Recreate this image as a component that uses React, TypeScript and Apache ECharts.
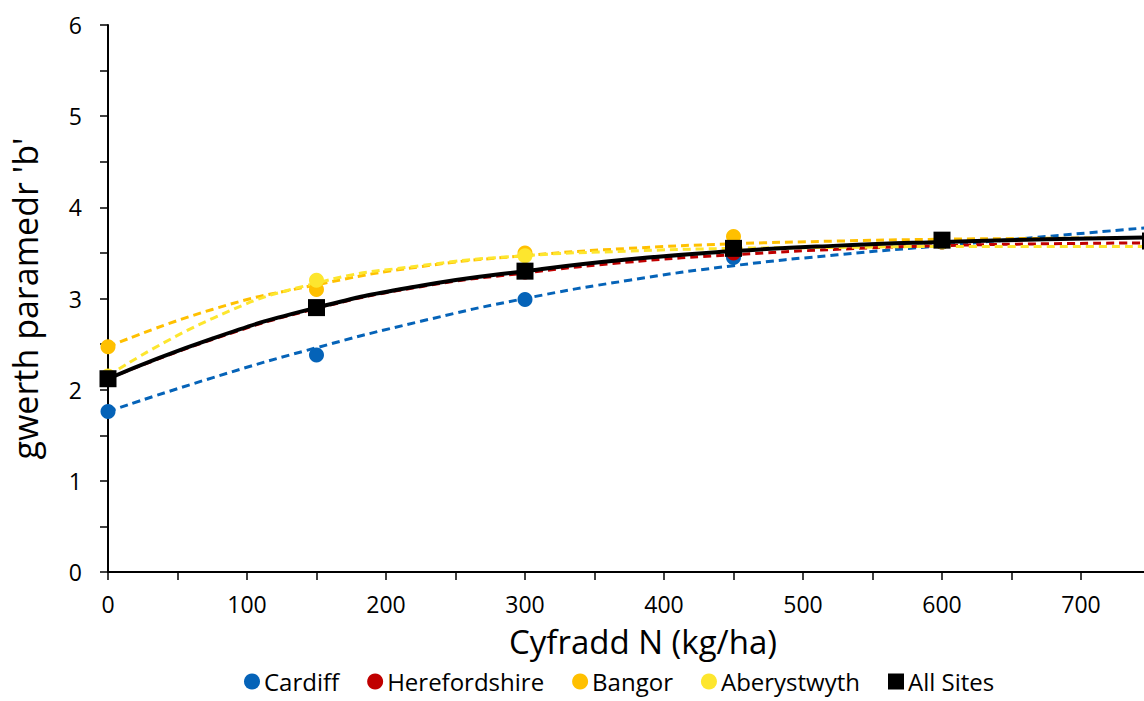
import React, { useEffect, useRef } from "react";
import * as echarts from "echarts";

const nRates = [0, 150, 300, 450, 600, 750];
const cardiff = [1.76, 2.38, 2.99, 3.45, 3.62, 3.6];
const herefordshire = [2.12, 2.9, 3.29, 3.5, 3.62, 3.61];
const bangor = [2.47, 3.1, 3.5, 3.68, 3.64, 3.6];
const aberystwyth = [2.15, 3.2, 3.47, 3.55, 3.62, 3.58];
const allSites = [2.12, 2.9, 3.3, 3.55, 3.64, 3.63];

const trendN = [0, 75, 150, 225, 300, 375, 450, 525, 600, 675, 750];
const cardiffTrend = [1.76, 2.13, 2.46, 2.75, 3.0, 3.2, 3.36, 3.48, 3.58, 3.68, 3.78];
const herefordshireTrend = [2.12, 2.55, 2.89, 3.13, 3.28, 3.4, 3.48, 3.54, 3.58, 3.6, 3.61];
const bangorTrend = [2.47, 2.88, 3.15, 3.35, 3.47, 3.55, 3.6, 3.63, 3.65, 3.66, 3.67];
const aberystwythTrend = [2.15, 2.78, 3.17, 3.36, 3.47, 3.52, 3.55, 3.56, 3.57, 3.57, 3.57];
const allSitesTrend = [2.12, 2.56, 2.9, 3.14, 3.3, 3.43, 3.52, 3.58, 3.62, 3.65, 3.67];

const xMax = 800;
const yMax = 6;

const names = ["Cardiff", "Herefordshire", "Bangor", "Aberystwyth", "All Sites"];
const colors = ["#0563B8", "#C00000", "#FFC000", "#FDE62E", "#000000"];
const FONT = "Open Sans";

const pairs = (xs: number[], ys: number[]) => xs.map((x, i) => [x, ys[i]]);

export default function App() {
  const ref = useRef<HTMLDivElement>(null);
  useEffect(() => {
    document.body.style.margin = "0";
    const chart = echarts.init(ref.current!, null, { renderer: "svg" });
    const pointSets = [cardiff, herefordshire, bangor, aberystwyth, allSites];
    const trendSets = [cardiffTrend, herefordshireTrend, bangorTrend, aberystwythTrend, allSitesTrend];
    const series: any[] = [];
    trendSets.forEach((t, i) => {
      const isAll = i === 4;
      series.push({
        name: names[i] + " trend",
        type: "line",
        data: pairs(trendN, t),
        smooth: true,
        showSymbol: false,
        symbol: "none",
        z: isAll ? 4 : 2,
        lineStyle: {
          color: colors[i],
          width: isAll ? 4 : 3,
          type: isAll ? "solid" : [8, 5],
        },
        silent: true,
      });
    });
    pointSets.forEach((p, i) => {
      const isAll = i === 4;
      series.push({
        name: names[i],
        type: "scatter",
        data: pairs(nRates, p),
        symbol: isAll ? "rect" : "circle",
        symbolSize: isAll ? 17 : 15,
        z: isAll ? 5 : 3,
        itemStyle: { color: colors[i], opacity: 1 },
      });
    });
    chart.setOption({
      animation: false,
      textStyle: { fontFamily: FONT },
      grid: { left: 108, right: 40, top: 25, bottom: 129, containLabel: false, outerBoundsMode: "none" },
      legend: {
        data: names.map((n, i) => ({ name: n, icon: i === 4 ? "rect" : "circle", itemStyle: { opacity: 1 } })),
        left: 244,
        top: 669,
        itemWidth: 16,
        itemHeight: 16,
        itemGap: 28,
        padding: 0,
        textStyle: { fontFamily: FONT, fontSize: 24, color: "#000", lineHeight: 25, padding: [0, 0, 0, -1] },
      },
      xAxis: {
        type: "value",
        min: 0,
        max: xMax,
        interval: 100,
        name: "Cyfradd N (kg/ha)",
        nameLocation: "middle",
        nameGap: 53,
        nameTextStyle: {
          fontFamily: FONT,
          fontSize: 33,
          color: "#000",
          verticalAlign: "top",
          padding: [0, 42, 0, 0],
        },
        axisLine: { show: true, onZero: false, lineStyle: { color: "#000", width: 2 } },
        axisTick: { show: true, length: 8, lineStyle: { color: "#000", width: 1.5 } },
        minorTick: { show: true, splitNumber: 2, length: 8, lineStyle: { color: "#000", width: 1.5 } },
        splitLine: { show: false },
        axisLabel: {
          fontFamily: FONT,
          fontSize: 23,
          color: "#000",
          margin: 20,
          formatter: (v: number) => (v >= xMax ? "" : String(v)),
        },
      },
      yAxis: {
        type: "value",
        min: 0,
        max: yMax,
        interval: 1,
        name: "gwerth paramedr 'b'",
        nameLocation: "middle",
        nameGap: 66,
        nameRotate: 90,
        nameTextStyle: { fontFamily: FONT, fontSize: 34, color: "#000" },
        axisLine: { show: true, lineStyle: { color: "#000", width: 2 } },
        axisTick: { show: true, length: 8, lineStyle: { color: "#000", width: 1.5 } },
        minorTick: { show: true, splitNumber: 2, length: 8, lineStyle: { color: "#000", width: 1.5 } },
        splitLine: { show: false },
        axisLabel: { fontFamily: FONT, fontSize: 23, color: "#000", margin: 26 },
      },
      series,
    });
    return () => chart.dispose();
  }, []);
  return (
    <div style={{ width: 1144, height: 701, overflow: "hidden", background: "#fff" }}>
      <div ref={ref} style={{ width: 1260, height: 701 }} />
    </div>
  );
}
